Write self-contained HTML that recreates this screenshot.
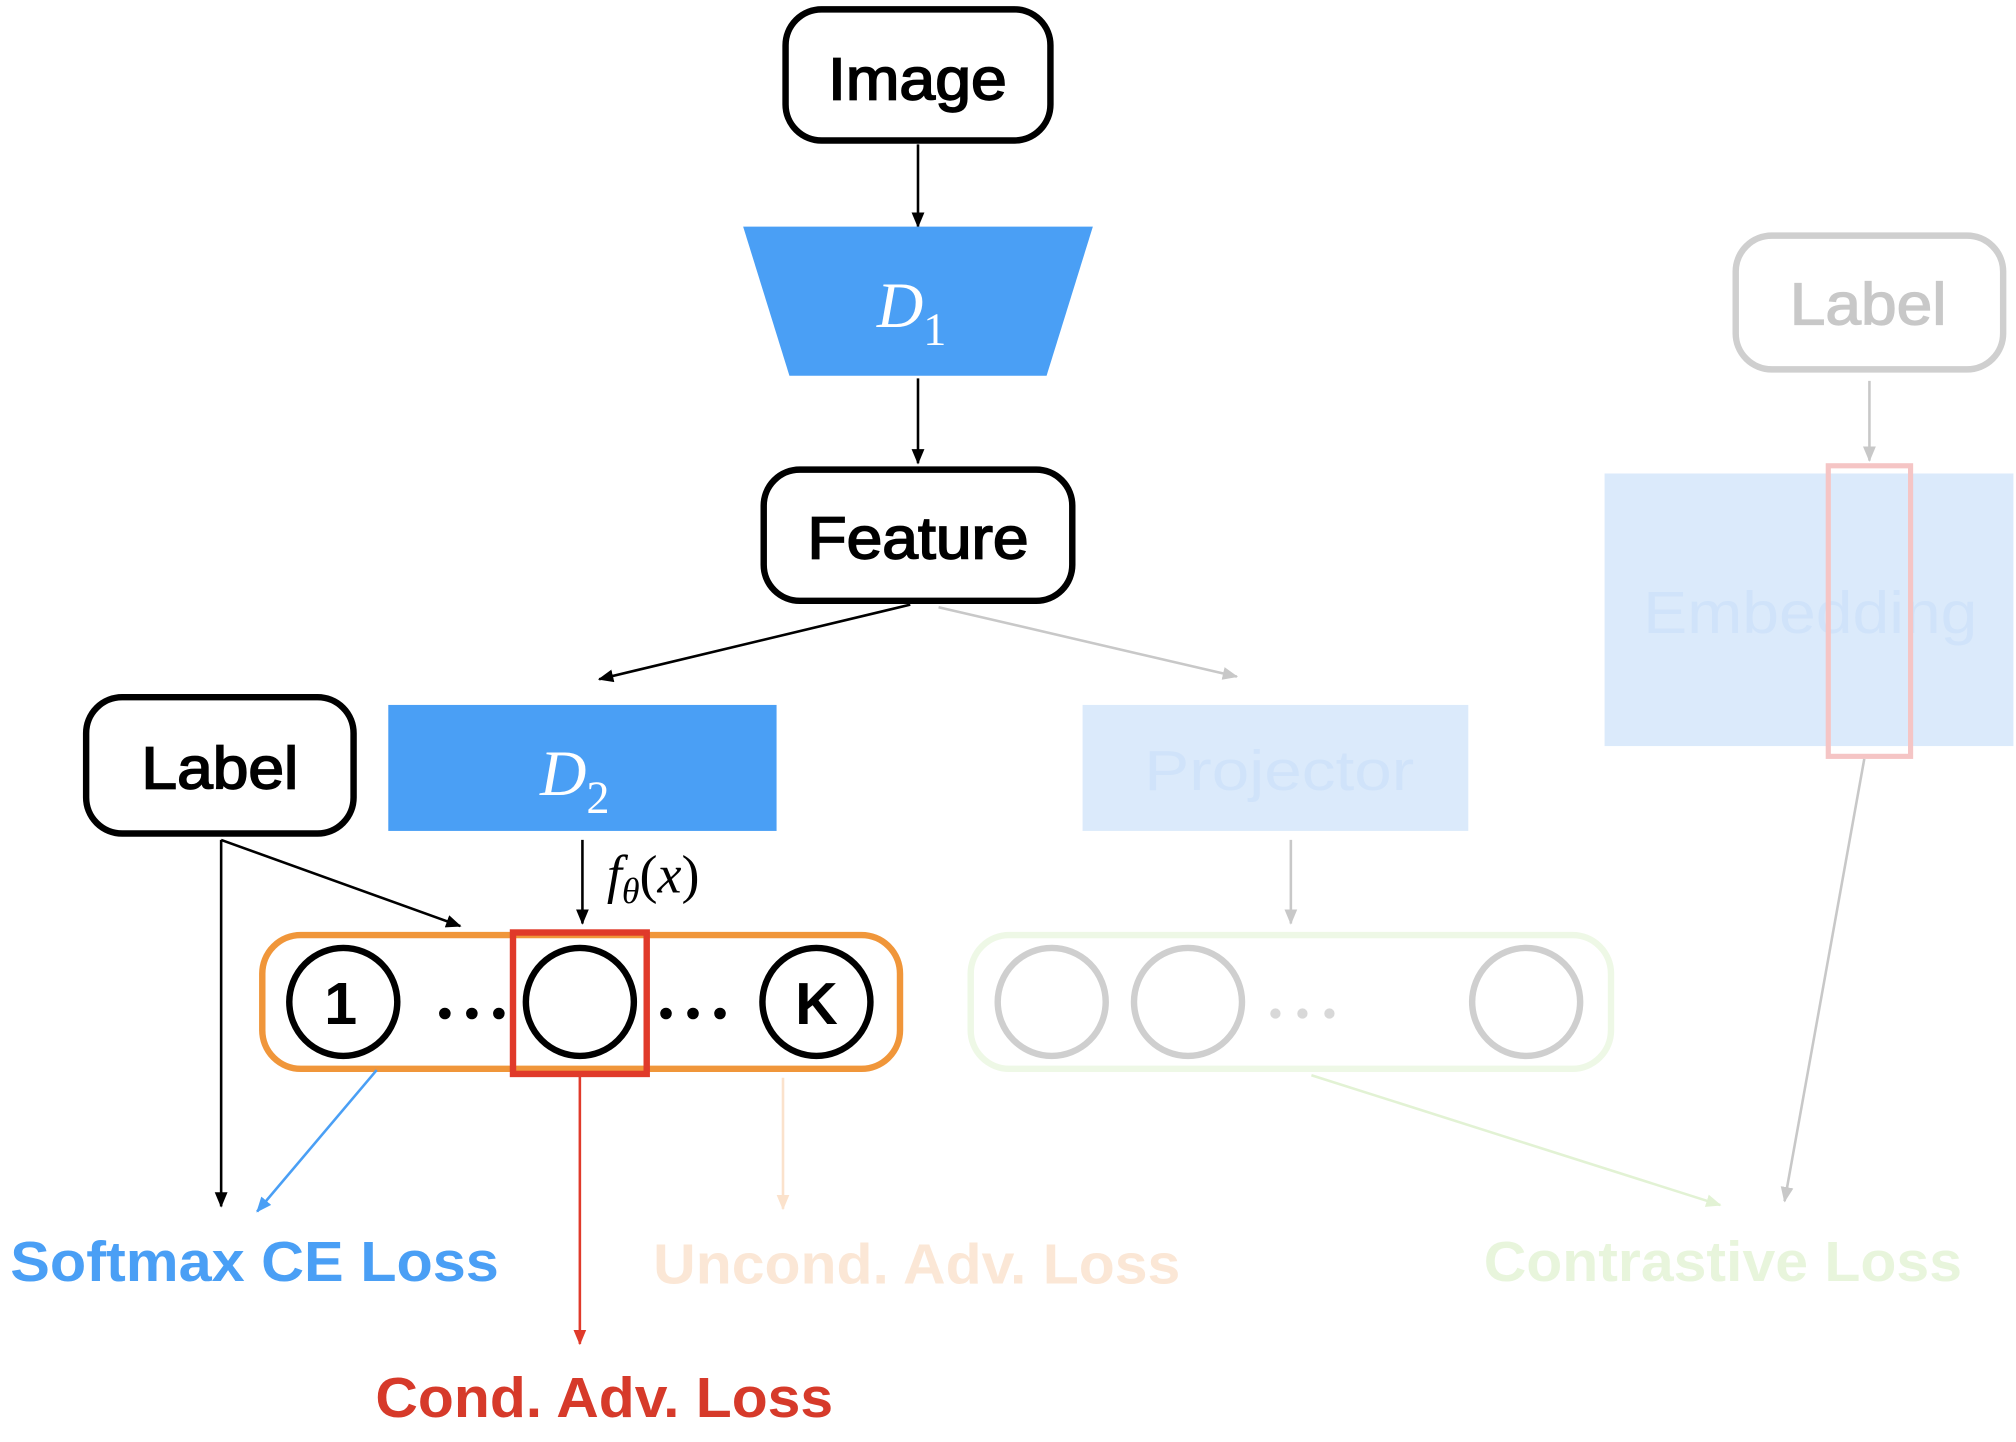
<!DOCTYPE html>
<html><head><meta charset="utf-8"><style>
html,body{margin:0;padding:0;background:#fff;}
svg{display:block;}
.b{font-family:"Liberation Sans",sans-serif;font-weight:bold;}
</style></head><body>
<svg width="2016" height="1442" viewBox="0 0 1568 1121" xmlns="http://www.w3.org/2000/svg">
<defs>
<marker id="ak" markerWidth="12" markerHeight="10" refX="11" refY="5" orient="auto" markerUnits="userSpaceOnUse" viewBox="0 0 12 10"><path d="M0,0 L12,5 L0,10 z" fill="#000"/></marker>
<marker id="ag" markerWidth="12" markerHeight="10" refX="11" refY="5" orient="auto" markerUnits="userSpaceOnUse" viewBox="0 0 12 10"><path d="M0,0 L12,5 L0,10 z" fill="#c8c8c8"/></marker>
<marker id="ab" markerWidth="12" markerHeight="10" refX="11" refY="5" orient="auto" markerUnits="userSpaceOnUse" viewBox="0 0 12 10"><path d="M0,0 L12,5 L0,10 z" fill="#4a9ff5"/></marker>
<marker id="ar" markerWidth="12" markerHeight="10" refX="11" refY="5" orient="auto" markerUnits="userSpaceOnUse" viewBox="0 0 12 10"><path d="M0,0 L12,5 L0,10 z" fill="#e03a2a"/></marker>
<marker id="ao" markerWidth="12" markerHeight="10" refX="11" refY="5" orient="auto" markerUnits="userSpaceOnUse" viewBox="0 0 12 10"><path d="M0,0 L12,5 L0,10 z" fill="#fbe2cc"/></marker>
<marker id="agr" markerWidth="12" markerHeight="10" refX="11" refY="5" orient="auto" markerUnits="userSpaceOnUse" viewBox="0 0 12 10"><path d="M0,0 L12,5 L0,10 z" fill="#e2f2d4"/></marker>
</defs>

<rect x="1248" y="368" width="318" height="212" fill="#dbeafb"/>
<text x="1278" y="492" font-family="Liberation Sans,sans-serif" font-size="46" fill="#d0e3fa" textLength="260" lengthAdjust="spacingAndGlyphs">Embedding</text>
<rect x="1422" y="362" width="64" height="226" fill="none" stroke="#f5c5c5" stroke-width="4"/>
<rect x="1350" y="183" width="208" height="104" rx="28" fill="#fff" stroke="#cfcfcf" stroke-width="5"/>
<text x="1392" y="252" font-family="Liberation Sans,sans-serif" font-size="46" fill="#c8c8c8" stroke="#c8c8c8" stroke-width="1" textLength="122" lengthAdjust="spacingAndGlyphs">Label</text>
<line x1="1454" y1="296" x2="1454" y2="358" stroke="#c8c8c8" stroke-width="2" marker-end="url(#ag)"/>
<line x1="1450" y1="590" x2="1388" y2="934" stroke="#c8c8c8" stroke-width="2" marker-end="url(#ag)"/>

<rect x="842" y="548" width="300" height="98" fill="#dbeafb"/>
<text x="890" y="614" font-family="Liberation Sans,sans-serif" font-size="44" fill="#d0e3fa" textLength="210" lengthAdjust="spacingAndGlyphs">Projector</text>
<line x1="1004" y1="653" x2="1004" y2="718" stroke="#c8c8c8" stroke-width="2" marker-end="url(#ag)"/>
<rect x="755" y="727" width="498" height="104" rx="30" fill="none" stroke="#eef8e6" stroke-width="5"/>
<circle cx="818" cy="779" r="42" fill="none" stroke="#cfcfcf" stroke-width="5"/>
<circle cx="924" cy="779" r="42" fill="none" stroke="#cfcfcf" stroke-width="5"/>
<circle cx="1187" cy="779" r="42" fill="none" stroke="#cfcfcf" stroke-width="5"/>
<circle cx="992" cy="788" r="4" fill="#d8d8d8"/><circle cx="1013" cy="788" r="4" fill="#d8d8d8"/><circle cx="1034" cy="788" r="4" fill="#d8d8d8"/>
<line x1="1020" y1="836" x2="1338" y2="937" stroke="#e2f2d4" stroke-width="2" marker-end="url(#agr)"/>
<text x="1154" y="996" class="b" font-size="44" fill="#e8f5dc" textLength="372" lengthAdjust="spacingAndGlyphs">Contrastive Loss</text>
<text x="508" y="998" class="b" font-size="44" fill="#fbe7d6" textLength="410" lengthAdjust="spacingAndGlyphs">Uncond. Adv. Loss</text>
<line x1="609" y1="838" x2="609" y2="940" stroke="#fbe2cc" stroke-width="2" marker-end="url(#ao)"/>

<rect x="611" y="7" width="206" height="102" rx="28" fill="#fff" stroke="#000" stroke-width="5"/>
<text x="644" y="77" font-family="Liberation Sans,sans-serif" font-size="46" stroke="#000" stroke-width="1.3" textLength="139" lengthAdjust="spacingAndGlyphs">Image</text>
<line x1="714" y1="112" x2="714" y2="176" stroke="#000" stroke-width="2" marker-end="url(#ak)"/>
<polygon points="578,176 850,176 814,292 614,292" fill="#4a9ff5"/>
<text x="682" y="254" font-family="Liberation Serif,serif" font-style="italic" font-size="50" fill="#fff">D<tspan font-style="normal" font-size="36" dy="14">1</tspan></text>
<line x1="714" y1="294" x2="714" y2="360" stroke="#000" stroke-width="2" marker-end="url(#ak)"/>
<rect x="594" y="365" width="240" height="102" rx="28" fill="#fff" stroke="#000" stroke-width="5"/>
<text x="628" y="434" font-family="Liberation Sans,sans-serif" font-size="46" stroke="#000" stroke-width="1.3" textLength="172" lengthAdjust="spacingAndGlyphs">Feature</text>
<line x1="730" y1="472" x2="962" y2="526" stroke="#c8c8c8" stroke-width="2" marker-end="url(#ag)"/>
<line x1="708" y1="470" x2="466" y2="528" stroke="#000" stroke-width="2" marker-end="url(#ak)"/>

<rect x="302" y="548" width="302" height="98" fill="#4a9ff5"/>
<text x="420" y="618" font-family="Liberation Serif,serif" font-style="italic" font-size="50" fill="#fff">D<tspan font-style="normal" font-size="36" dy="14">2</tspan></text>

<rect x="67" y="542" width="208" height="106" rx="28" fill="#fff" stroke="#000" stroke-width="5"/>
<text x="110" y="613" font-family="Liberation Sans,sans-serif" font-size="46" stroke="#000" stroke-width="1.3" textLength="122" lengthAdjust="spacingAndGlyphs">Label</text>
<line x1="172" y1="653" x2="172" y2="938" stroke="#000" stroke-width="2" marker-end="url(#ak)"/>
<line x1="172" y1="653" x2="358" y2="720" stroke="#000" stroke-width="2" marker-end="url(#ak)"/>
<line x1="453" y1="653" x2="453" y2="718" stroke="#000" stroke-width="2" marker-end="url(#ak)"/>
<text x="472" y="694" font-family="Liberation Serif,serif" font-style="italic" font-size="42">f<tspan font-size="28" dy="8">θ</tspan><tspan dy="-8" font-style="normal">(</tspan>x<tspan font-style="normal">)</tspan></text>

<rect x="204" y="727" width="496" height="104" rx="30" fill="none" stroke="#f0963a" stroke-width="5"/>
<circle cx="267" cy="779" r="42" fill="#fff" stroke="#000" stroke-width="5"/>
<text x="265" y="796" class="b" font-size="46" text-anchor="middle">1</text>
<circle cx="451" cy="779" r="42" fill="#fff" stroke="#000" stroke-width="5"/>
<circle cx="635" cy="779" r="42" fill="#fff" stroke="#000" stroke-width="5"/>
<text x="635" y="796" class="b" font-size="46" text-anchor="middle">K</text>
<circle cx="346" cy="788" r="4.5"/><circle cx="367" cy="788" r="4.5"/><circle cx="388" cy="788" r="4.5"/>
<circle cx="518" cy="788" r="4.5"/><circle cx="539" cy="788" r="4.5"/><circle cx="560" cy="788" r="4.5"/>
<rect x="399" y="725" width="104" height="110" fill="none" stroke="#e03a2a" stroke-width="5"/>
<line x1="451" y1="837" x2="451" y2="1045" stroke="#e03a2a" stroke-width="2" marker-end="url(#ar)"/>
<line x1="293" y1="832" x2="200" y2="942" stroke="#4a9ff5" stroke-width="2" marker-end="url(#ab)"/>

<text x="8" y="996" class="b" font-size="44" fill="#4a9ff5" textLength="380" lengthAdjust="spacingAndGlyphs">Softmax CE Loss</text>
<text x="292" y="1102" class="b" font-size="44" fill="#d63a2a" textLength="356" lengthAdjust="spacingAndGlyphs">Cond. Adv. Loss</text>
</svg>
</body></html>
